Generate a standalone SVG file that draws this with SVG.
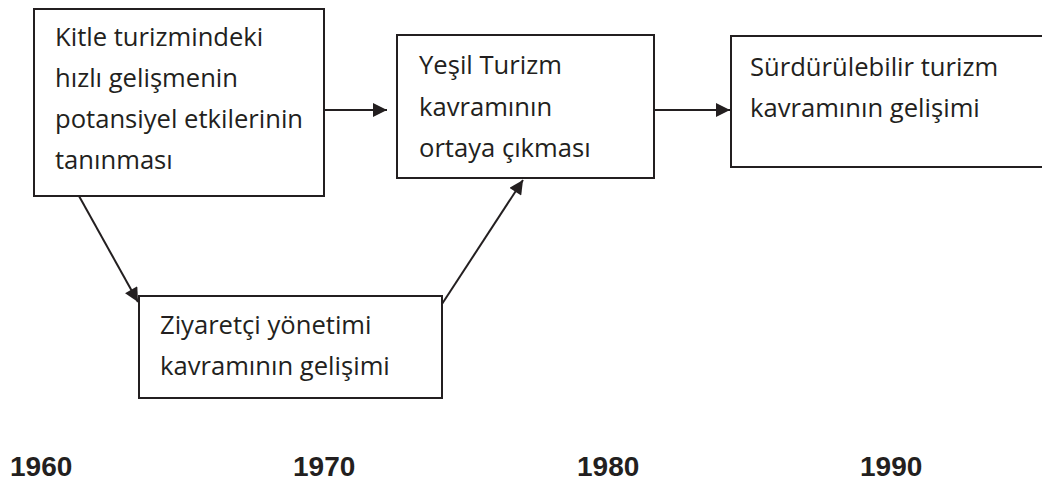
<svg xmlns="http://www.w3.org/2000/svg" width="1042" height="482" viewBox="0 0 1042 482">
  <style>
    .box { fill: #ffffff; stroke: #231f20; stroke-width: 2; }
    .lbl { font-family: "Open Sans", "Liberation Sans", sans-serif; font-size: 25.6px; fill: #231f20; }
    .year { font-family: "Liberation Sans", Arial, sans-serif; font-size: 28px; font-weight: bold; fill: #231f20; }
    .edge { fill: none; stroke: #231f20; stroke-width: 2; }
  </style>
  <defs>
    <marker id="arrow" viewBox="0 0 10 10" refX="10" refY="5" markerWidth="7.5" markerHeight="7" markerUnits="strokeWidth" orient="auto">
      <path d="M0,0 L10,5 L0,10 Z" fill="#231f20"/>
    </marker>
  </defs>

  <rect width="1042" height="482" fill="#ffffff"/>

  <!-- connectors -->
  <g id="connectors">
    <line class="edge" x1="324" y1="110" x2="387" y2="110" marker-end="url(#arrow)"/>
    <line class="edge" x1="654" y1="110" x2="730" y2="110" marker-end="url(#arrow)"/>
    <line class="edge" x1="79" y1="196" x2="138" y2="302" marker-end="url(#arrow)"/>
    <line class="edge" x1="442" y1="304" x2="523" y2="180" marker-end="url(#arrow)"/>
  </g>

  <!-- 1960s: recognition of mass tourism impacts -->
  <g id="node-kitle">
    <rect class="box" x="34" y="9" width="290" height="187"/>
    <text class="lbl" x="55" y="46">Kitle turizmindeki</text>
    <text class="lbl" x="55" y="87">hızlı gelişmenin</text>
    <text class="lbl" x="55" y="128">potansiyel etkilerinin</text>
    <text class="lbl" x="55" y="169">tanınması</text>
  </g>

  <!-- 1970s: visitor management -->
  <g id="node-ziyaretci">
    <rect class="box" x="139" y="296" width="303" height="102"/>
    <text class="lbl" x="160" y="334">Ziyaretçi yönetimi</text>
    <text class="lbl" x="160" y="375">kavramının gelişimi</text>
  </g>

  <!-- 1980s: green tourism -->
  <g id="node-yesil">
    <rect class="box" x="397" y="35" width="257" height="143"/>
    <text class="lbl" x="419" y="74">Yeşil Turizm</text>
    <text class="lbl" x="419" y="115.5">kavramının</text>
    <text class="lbl" x="419" y="157">ortaya çıkması</text>
  </g>

  <!-- 1990s: sustainable tourism -->
  <g id="node-surdurulebilir">
    <rect class="box" x="731" y="36" width="320" height="131"/>
    <text class="lbl" x="750" y="76">Sürdürülebilir turizm</text>
    <text class="lbl" x="750" y="117">kavramının gelişimi</text>
  </g>

  <!-- timeline -->
  <g id="timeline">
    <text class="year" x="10" y="476">1960</text>
    <text class="year" x="293" y="476">1970</text>
    <text class="year" x="577" y="476">1980</text>
    <text class="year" x="860" y="476">1990</text>
  </g>
</svg>
